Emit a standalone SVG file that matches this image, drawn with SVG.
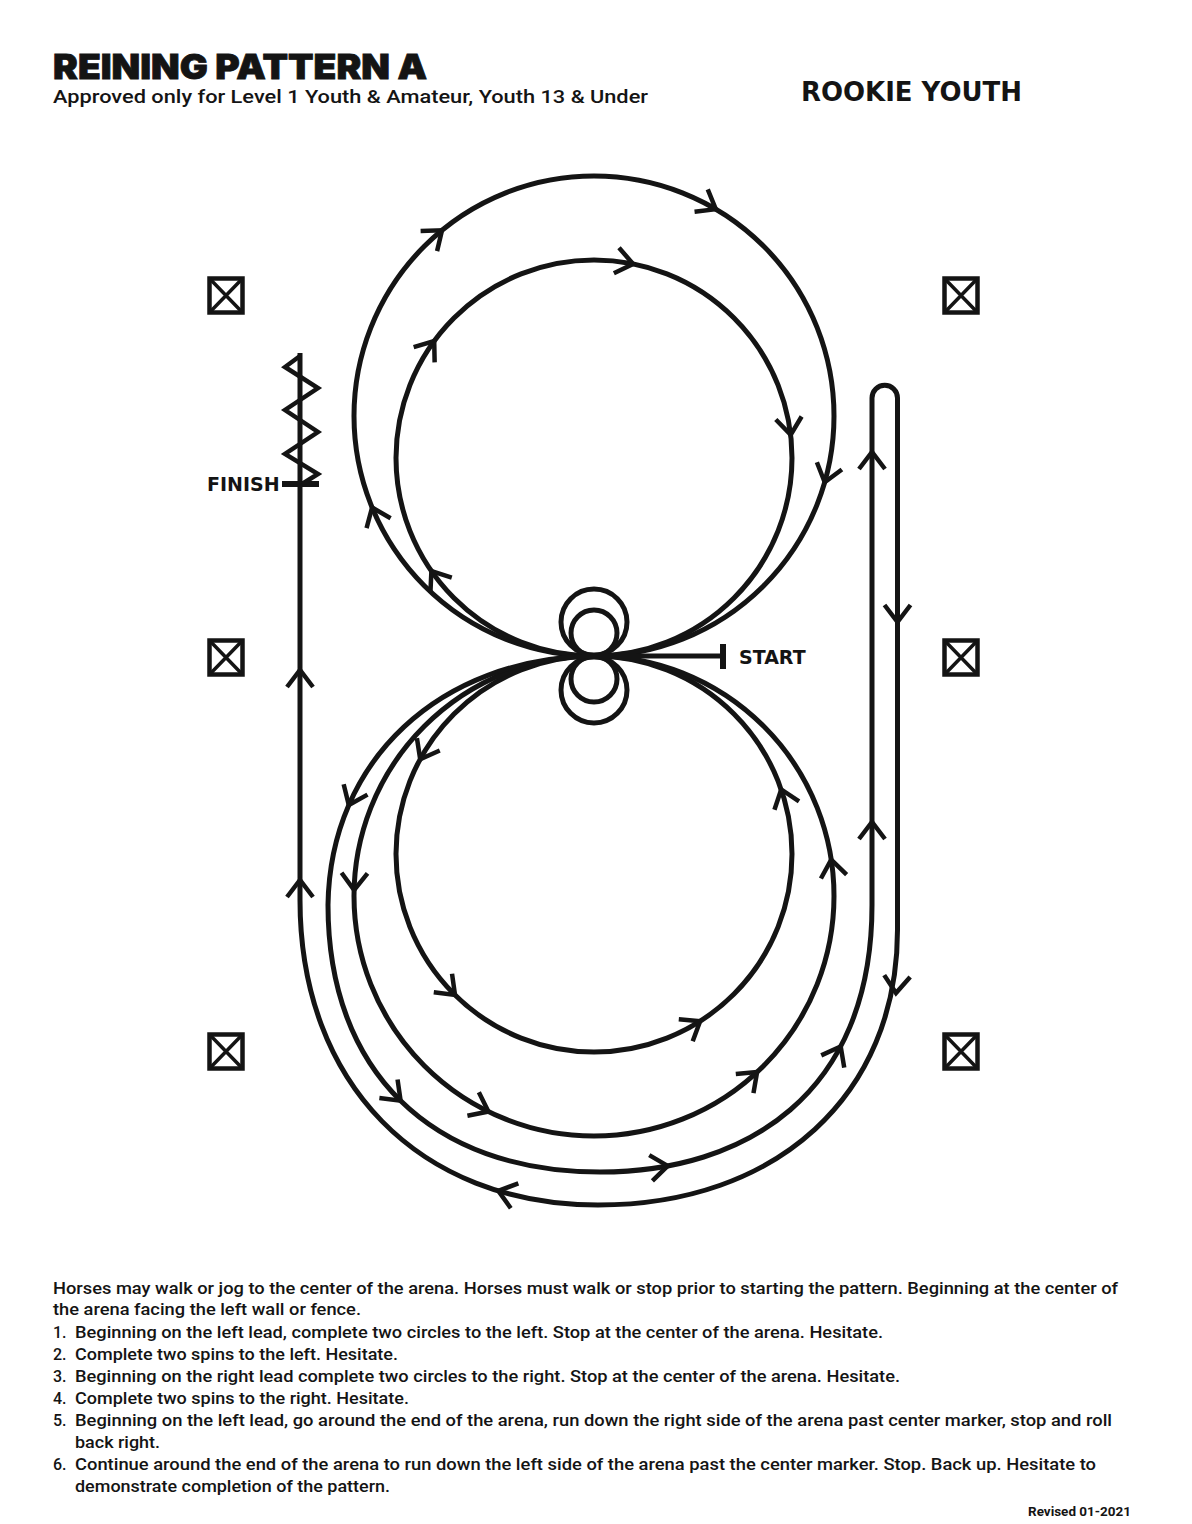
<svg xmlns="http://www.w3.org/2000/svg" width="1192" height="1524" viewBox="0 0 1192 1524">
<defs>
<style>
.ln{fill:none;stroke:#141414;stroke-width:5}
.ar{fill:none;stroke:#141414;stroke-width:4.5;stroke-linejoin:miter;stroke-miterlimit:10}
.mkr{fill:none;stroke:#141414;stroke-width:4.5}
.mkx{fill:none;stroke:#141414;stroke-width:3.5}
.lbl{font-family:"DejaVu Sans",Verdana,sans-serif;font-weight:bold;fill:#141414}
.body{font-family:Roboto,"Liberation Sans",sans-serif;font-weight:500;font-size:16px;fill:#141414}
</style>
<path id="chev" d="M-13,17 L0,0 L13,17"/>
<g id="box">
<rect class="mkr" x="-16.5" y="-17" width="33" height="34"/>
<path class="mkx" d="M-16,-16.5 L16,16.5 M16,-16.5 L-16,16.5"/>
</g>
</defs>
<rect width="1192" height="1524" fill="#ffffff"/>

<g id="header">
<text x="53" y="79" font-family="Inter,Roboto,'Liberation Sans',sans-serif" font-weight="900" font-size="34" fill="#141414" stroke="#141414" stroke-width="0.8" textLength="374" lengthAdjust="spacingAndGlyphs">REINING PATTERN A</text>
<text x="53" y="103" font-family="Roboto,'Liberation Sans',sans-serif" font-weight="500" font-size="19" fill="#141414" textLength="595" lengthAdjust="spacingAndGlyphs">Approved only for Level 1 Youth &amp; Amateur, Youth 13 &amp; Under</text>
<text class="lbl" x="801" y="101" font-size="26" textLength="221" lengthAdjust="spacingAndGlyphs">ROOKIE YOUTH</text>
</g>

<g id="markers">
<g id="marker-l1"><use href="#box" transform="translate(226,295.5)"/></g>
<g id="marker-l2"><use href="#box" transform="translate(226,657.5)"/></g>
<g id="marker-l3"><use href="#box" transform="translate(226,1051.5)"/></g>
<g id="marker-r1"><use href="#box" transform="translate(961,295.5)"/></g>
<g id="marker-r2"><use href="#box" transform="translate(961,657.5)"/></g>
<g id="marker-r3"><use href="#box" transform="translate(961,1051.5)"/></g>
</g>

<g id="connectors">
<circle class="ln" cx="594" cy="416" r="240"/>
<circle class="ln" cx="594" cy="458" r="198"/>
<circle class="ln" cx="594" cy="854" r="198"/>
<circle class="ln" cx="594" cy="896" r="240"/>
<circle class="ln" cx="594" cy="622" r="33"/>
<circle class="ln" cx="594" cy="633" r="23"/>
<circle class="ln" cx="594" cy="690" r="33"/>
<circle class="ln" cx="594" cy="679" r="23"/>
<path class="ln" d="M594,656 C440,658 330,760 328,905 C328,1071 431,1172 600,1172 C745,1172 872,1095 872,905 L872,398 A12.75,12.75 0 0 1 897.5,398 L897.5,930 C897.5,1095 777,1205 598,1205 C419,1205 300,1083 300,900 L300,353"/>
<path class="ln" d="M594,656 L723,656"/>
<path class="ln" style="stroke-width:6" d="M723,644 L723,669"/>
<path class="ln" style="stroke-width:6" d="M282,484 L319,484"/>
<polyline class="ln" style="stroke-width:4.5;stroke-linejoin:miter" points="300,356 285,367 318,388 285,410 318,432 285,454 318,474 302,484"/>

<g id="arrows">
<use href="#chev" class="ar" transform="translate(372.1,507.5) rotate(337.6)"/>
<use href="#chev" class="ar" transform="translate(442,230.3) rotate(50.7)"/>
<use href="#chev" class="ar" transform="translate(715.8,209.2) rotate(120.5)"/>
<use href="#chev" class="ar" transform="translate(824.7,482.2) rotate(196)"/>
<use href="#chev" class="ar" transform="translate(431.4,571) rotate(325.2)"/>
<use href="#chev" class="ar" transform="translate(434.2,341) rotate(36.2)"/>
<use href="#chev" class="ar" transform="translate(633.1,263.9) rotate(101.4)"/>
<use href="#chev" class="ar" transform="translate(790.7,434.9) rotate(173.3)"/>
<use href="#chev" class="ar" transform="translate(420.2,759.2) rotate(208.6)"/>
<use href="#chev" class="ar" transform="translate(455,995) rotate(134.6)"/>
<use href="#chev" class="ar" transform="translate(700.1,1021.2) rotate(57.6)"/>
<use href="#chev" class="ar" transform="translate(781.2,789.5) rotate(341)"/>
<use href="#chev" class="ar" transform="translate(354.1,890.1) rotate(181.4)"/>
<use href="#chev" class="ar" transform="translate(488.4,1111.5) rotate(116.1)"/>
<use href="#chev" class="ar" transform="translate(757.1,1072.1) rotate(47.2)"/>
<use href="#chev" class="ar" transform="translate(831.2,859.7) rotate(351.3)"/>
<use href="#chev" class="ar" transform="translate(348.8,805) rotate(203.5)"/>
<use href="#chev" class="ar" transform="translate(400.6,1100.7) rotate(134.4)"/>
<use href="#chev" class="ar" transform="translate(667.7,1165.9) rotate(83)"/>
<use href="#chev" class="ar" transform="translate(840.7,1046.4) rotate(27.9)"/>
<use href="#chev" class="ar" transform="translate(872,822)"/>
<use href="#chev" class="ar" transform="translate(872,452)"/>
<use href="#chev" class="ar" transform="translate(897.5,622) rotate(180)"/>
<use href="#chev" class="ar" transform="translate(896,993) rotate(184)"/>
<use href="#chev" class="ar" transform="translate(498.3,1190.9) rotate(286.9)"/>
<use href="#chev" class="ar" transform="translate(300,880)"/>
<use href="#chev" class="ar" transform="translate(300,670)"/>
</g>
</g>

<g id="label-start"><text class="lbl" x="739" y="664" font-size="19">START</text></g>
<g id="label-finish"><text class="lbl" x="207" y="491" font-size="19">FINISH</text></g>

<g id="instructions" class="body">
<text x="53" y="1294" textLength="1065" lengthAdjust="spacingAndGlyphs">Horses may walk or jog to the center of the arena. Horses must walk or stop prior to starting the pattern. Beginning at the center of</text>
<text x="53" y="1315" textLength="308" lengthAdjust="spacingAndGlyphs">the arena facing the left wall or fence.</text>
<text x="53" y="1338">1.</text>
<text x="75" y="1338" textLength="808" lengthAdjust="spacingAndGlyphs">Beginning on the left lead, complete two circles to the left. Stop at the center of the arena. Hesitate.</text>
<text x="53" y="1360">2.</text>
<text x="75" y="1360" textLength="323" lengthAdjust="spacingAndGlyphs">Complete two spins to the left. Hesitate.</text>
<text x="53" y="1382">3.</text>
<text x="75" y="1382" textLength="825" lengthAdjust="spacingAndGlyphs">Beginning on the right lead complete two circles to the right. Stop at the center of the arena. Hesitate.</text>
<text x="53" y="1404">4.</text>
<text x="75" y="1404" textLength="334" lengthAdjust="spacingAndGlyphs">Complete two spins to the right. Hesitate.</text>
<text x="53" y="1426">5.</text>
<text x="75" y="1426" textLength="1037" lengthAdjust="spacingAndGlyphs">Beginning on the left lead, go around the end of the arena, run down the right side of the arena past center marker, stop and roll</text>
<text x="75" y="1448" textLength="85" lengthAdjust="spacingAndGlyphs">back right.</text>
<text x="53" y="1470">6.</text>
<text x="75" y="1470" textLength="1021" lengthAdjust="spacingAndGlyphs">Continue around the end of the arena to run down the left side of the arena past the center marker. Stop. Back up. Hesitate to</text>
<text x="75" y="1492" textLength="315" lengthAdjust="spacingAndGlyphs">demonstrate completion of the pattern.</text>
</g>
<g id="revised"><text x="1028" y="1516" font-family="Roboto,'Liberation Sans',sans-serif" font-weight="700" font-size="12.5" fill="#141414" textLength="103" lengthAdjust="spacingAndGlyphs">Revised 01-2021</text></g>
</svg>
